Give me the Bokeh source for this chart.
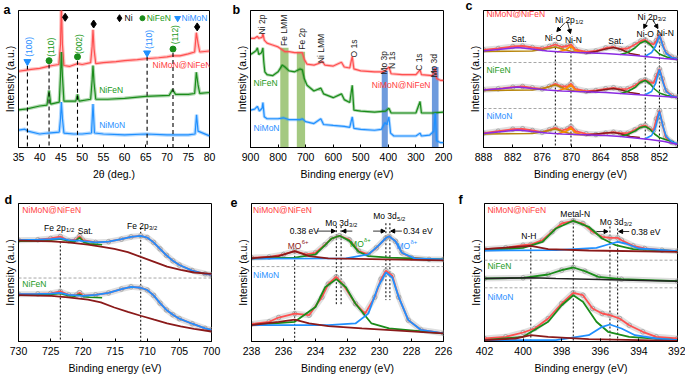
import numpy as np
from bokeh.plotting import figure
from bokeh.layouts import row, column
from bokeh.models import Range1d, FixedTicker, Arrow, NormalHead, Span
from bokeh.core.properties import value
from bokeh.embed import file_html
from bokeh.resources import INLINE

FONT = "Liberation Sans"
RED = "#ff5050"
GREEN = "#1a8c1a"
BLUE = "#2090ff"
DRED = "#8b1a1a"
PURPLE = "#8a2be2"
ORANGE = "#ff8c00"
OLIVE = "#b8860b"
GRAY = "#9c9c9c"
TRED = "#ff4040"
TGREEN = "#1a9a1a"
TBLUE = "#2b8fff"

# ---------------- panel a (XRD) ----------------
a_ticks = [35, 40, 45, 50, 55, 60, 65, 70, 75, 80]
a_x_red = [35.0, 36.5, 38.0, 40.0, 42.0, 43.0, 44.5, 44.9, 45.1, 45.35, 45.7, 47.0, 48.9, 50.0, 52.0, 52.35, 52.55, 52.8, 53.2, 55.0, 58.0, 60.0, 63.0, 65.0, 68.0, 70.0, 71.3, 73.0, 75.0, 76.5, 76.9, 77.3, 77.7, 80.0]
a_y_red = [79, 80, 81, 82, 84, 85, 86, 107, 150, 107, 85, 84, 87, 86, 88, 105, 122, 102, 87, 88, 89, 90, 91, 92, 93, 94, 95, 95, 97, 99, 119, 108, 99, 100]
a_x_green = [35.0, 37.0, 40.0, 41.7, 42.2, 42.6, 44.6, 44.9, 45.1, 45.35, 45.7, 48.5, 48.9, 49.3, 52.0, 52.35, 52.55, 52.8, 53.2, 56.0, 60.0, 65.0, 70.5, 71.3, 72.0, 75.0, 76.5, 76.9, 77.3, 77.7, 80.0]
a_y_green = [39, 40, 43, 44, 59, 45, 47, 74, 99, 74, 48, 48, 55, 48, 50, 70, 85, 67, 50, 50, 51, 53, 54, 60, 55, 55, 56, 78, 65, 56, 57]
a_x_blue = [35.0, 36.5, 37.2, 40.0, 42.0, 44.6, 44.9, 45.1, 45.35, 45.7, 48.0, 50.0, 52.2, 52.55, 52.9, 55.0, 60.0, 65.0, 70.0, 75.0, 76.6, 76.95, 77.3, 80.0]
a_y_blue = [18, 19, 17, 14, 15, 16, 30, 47, 30, 15, 14, 14, 15, 45, 15, 14, 13, 14, 13, 13, 14, 34, 17, 12]
a_ni_x = [46.0, 52.7, 77.1]
a_ni_y = [135, 128, 125]
a_nifen_x = [42.2, 48.9, 71.4]
a_nifen_y = [90, 94, 102]
a_nimon_x = [37.1, 65.3]
a_nimon_y = [89, 98]
a_hkl = ["(100)", "(110)", "(002)", "(110)", "(112)"]
a_hkl_x = [37.45, 42.6, 49.3, 65.65, 71.8]
a_hkl_y = [94, 94, 97, 102, 107]

# ---------------- panel b (survey) ----------------
b_ticks = [900, 800, 700, 600, 500, 400, 300, 200]
b_x_red = [900, 885, 875, 870, 858, 855, 850, 840, 820, 800, 785, 775, 760, 740, 720, 712, 705, 695, 670, 650, 640, 630, 600, 570, 560, 540, 531, 525, 500, 450, 420, 412, 398, 390, 350, 300, 285, 280, 240, 230, 225, 210, 200]
b_y_red = [114, 114, 116, 114, 115, 119, 112, 109, 107, 105, 102, 100, 100, 99, 99, 99, 92, 87, 86, 88, 90, 86, 85, 89, 84, 83, 95, 82, 80, 79, 79, 80, 84, 77, 76, 76, 81, 76, 75, 83, 72, 70, 70]
b_x_green = [900, 890, 880, 875, 870, 860, 855, 852, 848, 840, 820, 800, 785, 775, 760, 740, 720, 712, 705, 695, 670, 645, 635, 600, 570, 560, 540, 531, 525, 500, 450, 410, 398, 390, 350, 300, 285, 280, 240, 200]
b_y_green = [97, 99, 101, 104, 97, 99, 104, 90, 79, 76, 75, 79, 86, 84, 80, 79, 82, 81, 72, 65, 59, 62, 56, 52, 56, 50, 47, 65, 39, 38, 37, 38, 41, 36, 36, 36, 48, 36, 36, 37]
b_x_blue = [900, 885, 875, 868, 858, 855, 850, 840, 800, 780, 760, 720, 712, 700, 670, 645, 635, 600, 560, 540, 531, 525, 500, 450, 425, 412, 405, 398, 392, 380, 350, 300, 285, 280, 250, 235, 230, 225, 210, 200]
b_y_blue = [39, 40, 43, 38, 41, 47, 32, 30, 30, 31, 29, 29, 30, 27, 25, 30, 24, 23, 22, 21, 32, 20, 19, 18, 19, 26, 24, 32, 15, 12, 12, 12, 15, 12, 13, 17, 36, 7, 5, 5]
b_band_hi = [792, 732, 424, 242]
b_band_lo = [762, 702, 402, 218]
b_band_top = [104, 100, 80, 84]
b_band_col = ["#8dbb62", "#8dbb62", "#4a82d4", "#4a82d4"]
b_lab = ["Ni 2p", "Fe LMM", "Fe 2p", "Ni LMM", "O 1s", "Mo 3p", "N 1s", "C 1s", "Mo 3d"]
b_lab_x = [859, 777, 714, 645, 526, 416, 387, 288, 234]
b_lab_y = [118, 106, 102, 88, 94, 76, 82, 80, 73]

# ---------------- panel c (Ni 2p) ----------------
c_ticks = [888, 882, 876, 870, 864, 858, 852]
c_x_env = [888, 885, 882, 880, 878, 876, 874.5, 873.3, 872, 870.8, 870.1, 869.2, 867, 865, 863, 861.4, 860, 858.5, 857, 855.8, 854.9, 854, 853.2, 852.6, 852.0, 851.4, 850.7, 849.5, 848.3]
c_top_env = [97.7, 99, 101, 101.5, 100, 99, 101, 103, 100.5, 101.5, 103, 98, 95.5, 96.5, 99.5, 100.5, 98.5, 99, 103, 106.5, 107.5, 104.5, 103, 107, 113, 104, 95, 90.5, 89]
c_mid_env = [57.7, 58.7, 60.3, 61, 59.7, 58.7, 61, 63.7, 61, 61, 63.7, 58.7, 56.3, 57, 58.7, 59.7, 58.3, 58.7, 62, 66.3, 67.7, 65.3, 64.3, 72, 78.7, 68.7, 57, 52, 50.3]
c_bot_env = [14.3, 16.3, 18.3, 18.7, 17, 15.3, 17.7, 19.7, 17, 18.7, 21, 16.3, 13.7, 13, 14.3, 15.3, 14.3, 14.3, 17.7, 21, 22, 18.7, 17, 28.7, 37, 23.7, 10.3, 5.3, 3]
c_x_bg = [888, 884, 881, 878, 875, 872, 869, 866, 863, 860, 857, 854, 851, 848.3]
c_top_bg = [96.5, 98.5, 100, 98.5, 96.5, 95.5, 95, 94.5, 94, 93, 92, 90.5, 89, 88]
c_mid_bg = [57.5, 59, 60.5, 59, 57.5, 56.5, 56, 55.5, 55, 54, 53, 52, 51, 50]
c_bot_bg = [14, 16, 17.5, 16, 14.5, 13.5, 13, 12.5, 12, 11, 9.5, 8, 6, 3]
c_x_ol = [888, 878, 875.5, 873.3, 871.5, 869.5, 866]
c_top_ol = [96, 96.5, 98.5, 100.5, 98, 95.5, 94.5]
c_mid_ol = [57, 57.5, 59.5, 62.5, 59, 56.5, 55.5]
c_bot_ol = [13.5, 14, 16, 18.5, 15.5, 13, 12.5]
c_x_or = [873, 871.2, 870.1, 869.3, 868]
c_top_or = [95.5, 97.5, 101.5, 97, 95]
c_mid_or = [56.5, 59, 62.5, 58, 56]
c_bot_or = [13.5, 16, 19.5, 15, 13]
c_x_sat = [867, 865, 863, 861.4, 859.8, 858, 856]
c_top_sat = [94.5, 96, 98.5, 100, 98, 94, 92.2]
c_mid_sat = [55.5, 56.5, 58, 59, 57.5, 55, 53.5]
c_bot_sat = [12.5, 13.5, 14.5, 15, 13.5, 11, 10]
c_x_nio = [860, 858.5, 857, 855.9, 854.9, 854, 853, 852, 850.5, 849]
c_top_nio = [93, 95, 99.5, 104.5, 106.5, 103.5, 98, 93.5, 90.5, 89]
c_mid_nio = [54, 56, 60, 65, 67, 64, 58.5, 54.5, 52, 51]
c_bot_nio = [11, 13, 16.5, 20, 21, 18.5, 13.5, 10, 7.5, 5.5]
c_x_nin = [855, 853.6, 852.8, 852.3, 852.0, 851.7, 851.2, 850.6, 849.5, 848.3]
c_top_nin = [91, 95, 101, 108, 112, 108, 100, 94, 90, 89]
c_mid_nin = [52.5, 56, 64, 73, 78, 73, 64, 56, 51.5, 50.3]
c_bot_nin = [8.5, 12, 20, 30, 36, 30, 20, 11, 6, 3.5]
c_sep = [85, 39]
c_vl_x = [873.3, 870.1, 854.9, 852.0]
c_vl_top = [104, 104, 110, 110]

# ---------------- panel d (Fe 2p) ----------------
d_ticks = [730, 725, 720, 715, 710, 705, 700]
d_x = [730, 727, 725, 723.5, 722.2, 721, 720.5, 720, 718, 716, 714, 712.5, 711, 710, 709, 708, 707, 706, 705, 703, 701, 700]
d_top_env = [104.3, 104.7, 106, 108, 103.7, 105, 108.3, 104.3, 102, 102.7, 105.3, 107.7, 108.7, 107, 102, 95.3, 88.7, 83, 78.7, 73, 69.7, 68.7]
d_top_fit = [104.3, 104.7, 105.3, 106, 104.3, 103.7, 103.7, 103.3, 102, 102.7, 105.3, 107.7, 108.7, 107, 102, 95.3, 88.7, 83, 78.7, 73, 69.7, 68.7]
d_bot_env = [48.7, 49, 49.5, 51.5, 48, 47.8, 50.3, 47.2, 48, 50, 54, 56.3, 55.3, 53, 47.5, 39.5, 32.5, 27.5, 23.5, 18.3, 13.5, 12]
d_bot_fit = [48.7, 49, 49.3, 50, 48, 47.5, 47.2, 47, 48, 50, 54, 56.3, 55.3, 53, 47.5, 39.5, 32.5, 27.5, 23.5, 18.3, 13.5, 12]
d_x_g = [730, 727, 725, 723.5, 722.5, 721.3, 720.5, 719.8, 719, 717]
d_top_g = [103.3, 103.5, 104.5, 105.5, 104, 102.5, 107, 102, 100.5, 99.5]
d_bot_g = [48, 48, 48.5, 49.5, 47.5, 46.5, 48.5, 46, 45.5, 45]
d_x_bg = [730, 724.9, 722.3, 719.2, 717.2, 715.1, 713, 711, 708.9, 706.9, 704.8, 702.7, 700]
d_top_bg = [103.7, 103, 102, 99.7, 97.7, 95.3, 92, 87, 82, 77, 73.7, 71, 69.5]
d_bot_bg = [47.7, 47, 45.5, 43, 40.3, 35, 30.5, 26.5, 22.5, 18.7, 15.5, 13, 10.3]
d_sep = [65.3]
d_vl_x = [723.5, 711.0]
d_vl_top = [107, 117]

# ---------------- panel e (Mo 3d) ----------------
e_ticks = [238, 236, 234, 232, 230, 228, 226]
e_x_top = [238, 236.9, 236, 235.3, 234.6, 234, 233.4, 233, 232.5, 231.9, 231.3, 230.7, 230.2, 229.6, 229.4, 229, 228.6, 228, 226.9, 226]
e_top_env = [85, 85.7, 88.3, 91.7, 88.3, 90, 98.3, 104.3, 107.3, 103.3, 91.7, 88.3, 95, 105, 106.7, 101.7, 90, 85, 83.3, 83.3]
e_x_tg = [238, 235.3, 234, 233.4, 233, 232.5, 231.9, 231.3, 230.7, 229.4, 226]
e_top_g = [84.3, 85, 88.3, 97.7, 104.3, 107.3, 102.3, 91, 86.7, 85, 83.3]
e_x_tb = [238, 232.1, 230.7, 230.1, 229.6, 229.4, 229, 228.6, 227.8, 226]
e_top_b = [84, 84.3, 88.3, 96.7, 105, 106.7, 101.7, 90, 84.3, 83.3]
e_x_td = [238, 236.3, 235.3, 234.4, 233.2, 226]
e_top_d = [84.3, 86.7, 91.7, 86.7, 84.3, 82.3]
e_x_bot = [238, 236.9, 236.3, 235.3, 234.4, 233.6, 233.2, 232.7, 232.3, 231.5, 230.9, 230.3, 229.9, 229.6, 229.2, 228.8, 228.2, 227.4, 226]
e_bot_env = [17.7, 20, 24.3, 28.3, 26.7, 45, 58.3, 65.7, 58.3, 38.3, 28.3, 45, 63.3, 71.7, 66.7, 45, 21.7, 11.7, 8.3]
e_x_bg = [238, 235.3, 234, 233.4, 232.7, 232.1, 231.5, 230.5, 229.4, 226]
e_bot_g = [16.7, 20, 35, 55, 63.3, 55, 38.3, 18.3, 13.3, 8.3]
e_x_bb = [238, 233.2, 231.5, 230.7, 230.1, 229.6, 229.2, 228.8, 228.2, 227.4, 226]
e_bot_b = [16.7, 16.7, 18.3, 28.3, 55, 70, 65, 45, 21.7, 11.7, 8.3]
e_x_bd = [238, 236.3, 235.3, 234.4, 233.2, 231.1, 226]
e_bot_d = [16.7, 20, 22.3, 18.3, 15.7, 13.3, 8.3]
e_sep = [76]

# ---------------- panel f (N 1s) ----------------
f_ticks = [402, 400, 398, 396, 394, 392]
f_x_top = [402, 400.9, 400, 399.6, 399, 398.5, 398, 397.4, 396.9, 396.4, 395.9, 395.5, 395.1, 394.9, 394.3, 393.7, 392.8, 392]
f_top_env = [92.3, 93.7, 96.3, 97, 101.3, 109.7, 118, 120.7, 118, 109.7, 104.7, 103.7, 103.7, 101.3, 95.7, 93, 91.3, 90.3]
f_x_tg = [402, 400, 399, 398.3, 397.4, 396.6, 395.9, 395.2, 394.3, 392]
f_top_g = [91.3, 93.7, 99.7, 113, 120.7, 114.7, 103, 96.3, 92.3, 90.3]
f_x_tb = [402, 398.3, 396.2, 395.6, 395.1, 394.7, 394, 392]
f_top_b = [91, 91.3, 93.7, 97, 99.7, 98, 93, 90.3]
f_x_td = [402, 399.6, 398.7, 396.6, 392]
f_top_d = [92.3, 95.7, 92.3, 91, 89.7]
f_x_mid = [402, 400, 398.7, 398, 397.4, 396.8, 396.1, 394.9, 392]
f_mid_g = [63, 63.7, 67, 71.3, 74, 70.3, 64.7, 62.3, 60.3]
f_x_mk = [402, 399.6, 398.3, 396.6, 392]
f_mid_k = [63, 63.7, 63, 62.3, 60.3]
f_x_bot = [402, 400.9, 400, 399.4, 398.7, 398, 397.4, 396.9, 396.4, 395.9, 395.5, 395, 394.5, 393.8, 393.1, 392]
f_bot_env = [3, 4.7, 9, 13, 23, 38, 48.7, 46.3, 33, 28, 26.3, 23, 16.3, 9.7, 4.7, 3]
f_x_bg = [402, 400, 398.7, 398, 397.4, 396.9, 396.2, 395.6, 394.5, 392]
f_bot_g = [1.3, 4.7, 19.7, 36.3, 46.3, 39.7, 19.7, 9.7, 4.7, 1.3]
f_x_bb = [402, 398.3, 396.6, 395.9, 395.5, 394.9, 394.2, 393.1, 392]
f_bot_b = [1.3, 1.3, 6.3, 14.7, 17, 13, 6.3, 3, 1.3]
f_x_bd = [402, 400.4, 399.6, 398.7, 396.6, 392]
f_bot_d = [1.3, 3, 6.3, 4.7, 2.3, 0.7]
f_sep = [81.3, 53.7]
f_vl_x = [399.6, 397.4, 395.5, 395.1]
f_vl_top = [98, 123, 115, 113]

# ---------------- helpers ----------------
CW = {'N': 722, 'i': 222, ' ': 278, '2': 556, 'p': 556, 'F': 611, 'e': 556, 'M': 833,
      'o': 556, '3': 556, 'd': 556, 'O': 778, '1': 556, '/': 278, '5': 556, '6': 556,
      '+': 584, 'δ': 556}


def tw(s, size):
    return sum(CW.get(ch, 556) for ch in s) * size / 1000.0


def txt(p, x, y, s, color="black", size=8.5, align="center", baseline="middle",
        angle=0.0, xo=0.0, yo=0.0):
    p.text(x=[x], y=[y], text=[s], text_color=color, text_font=value(FONT),
           text_font_size=value(f"{size}px"), text_align=align,
           text_baseline=baseline, angle=angle, x_offset=xo, y_offset=yo)


def stxt(p, x, y, main, script, color="black", size=8.5, sup=False):
    s2 = round(size * 0.7, 1)
    w1 = tw(main, size)
    w2 = tw(script, s2)
    start = -(w1 + w2) / 2.0
    txt(p, x, y, main, color, size, align="left", baseline="alphabetic", xo=start, yo=3)
    txt(p, x, y, script, color, s2, align="left", baseline="alphabetic",
        xo=start + w1 + 0.3, yo=3 + (-3.5 if sup else 2.2))


def make_fig(w, h, bl, br, bt, bb, xr, yr, ticks, xlabel, letter, loff, lstand, lvalign):
    p = figure(width=w, height=h, min_border_left=bl, min_border_right=br,
               min_border_top=bt, min_border_bottom=bb,
               x_range=Range1d(*xr), y_range=Range1d(*yr),
               output_backend="svg", toolbar_location=None)
    p.xgrid.visible = False
    p.ygrid.visible = False
    p.outline_line_color = "black"
    p.outline_line_width = 1
    p.outline_line_alpha = 1
    p.background_fill_color = "white"
    p.border_fill_color = "white"
    ax = p.xaxis[0]
    ax.ticker = FixedTicker(ticks=ticks)
    ax.major_tick_in = 3
    ax.major_tick_out = 0
    ax.minor_tick_line_color = None
    ax.axis_line_color = "black"
    ax.major_tick_line_color = "black"
    ax.major_label_text_font = FONT
    ax.major_label_text_font_size = "10.5px"
    ax.major_label_text_color = "black"
    ax.major_label_standoff = 5
    ax.axis_label = xlabel
    ax.axis_label_text_font = FONT
    ax.axis_label_text_font_size = "10.5px"
    ax.axis_label_text_font_style = "normal"
    ax.axis_label_text_color = "black"
    ax.axis_label_standoff = 4
    ay = p.yaxis[0]
    ay.ticker = FixedTicker(ticks=[])
    ay.major_tick_in = 0
    ay.major_tick_out = 0
    ay.minor_tick_line_color = None
    ay.axis_line_color = "black"
    ay.major_label_standoff = 0
    ay.axis_label = "Intensity (a.u.)"
    ay.axis_label_text_font = FONT
    ay.axis_label_text_font_size = "10.5px"
    ay.axis_label_text_font_style = "normal"
    ay.axis_label_text_color = "black"
    ay.axis_label_standoff = 3
    # panel letter as the figure title, pulled to the left of the frame
    p.title.text = letter
    p.title.text_font = FONT
    p.title.text_font_size = "12.5px"
    p.title.text_font_style = "bold"
    p.title.text_color = "black"
    p.title.align = "left"
    p.title.offset = loff
    p.title.standoff = lstand
    p.title.vertical_align = lvalign
    return p


def spectrum(p, x, y):
    p.line(x, y, line_color="#c4c4c4", line_width=6, line_alpha=0.55)
    p.scatter(x, y, marker="circle", size=4.5, fill_color=None, line_color=GRAY, line_width=0.8)


def ln(p, x, y, color, w=1.6):
    p.line(x, y, line_color=color, line_width=w)


def seps(p, ys):
    for yv in ys:
        p.add_layout(Span(location=yv, dimension="width", line_color="#909090",
                          line_dash="3 2", line_width=0.8))


def arrow(p, x0, y0, x1, y1):
    p.add_layout(Arrow(end=NormalHead(size=4, fill_color="black", line_color="black"),
                       x_start=x0, y_start=y0, x_end=x1, y_end=y1,
                       line_color="black", line_width=0.8))


# ================= panel a =================
pa = make_fig(229, 188, 17, 20, 5, 41, (35, 80), (0, 142), a_ticks, "2θ (deg.)", "a", -15, -12, "bottom")
for xs, ys, c in [(a_x_red, a_y_red, RED), (a_x_green, a_y_green, GREEN), (a_x_blue, a_y_blue, BLUE)]:
    pa.line(xs, ys, line_color=c, line_width=3.5, line_alpha=0.35)
    pa.line(xs, ys, line_color=c, line_width=1.2)
vx = a_nifen_x + a_nimon_x
vy = a_nifen_y + a_nimon_y
pa.segment(x0=vx, y0=[v - 4 for v in vy], x1=vx, y1=[0] * len(vx),
           line_color="black", line_dash="4 3", line_width=1.1)
pa.scatter(a_ni_x, a_ni_y, marker="diamond", size=8, fill_color="black", line_color="black")
pa.scatter(a_nifen_x, a_nifen_y, marker="circle", size=6, fill_color=GREEN, line_color=GREEN)
pa.scatter(a_nimon_x, a_nimon_y, marker="inverted_triangle", size=7, fill_color=BLUE, line_color=BLUE)
hkl_col = [TBLUE, TGREEN, TGREEN, TBLUE, TGREEN]
for s, x, y, c in zip(a_hkl, a_hkl_x, a_hkl_y, hkl_col):
    txt(pa, x, y, s, c, 8.5, align="left", baseline="middle", angle=np.pi / 2)
pa.scatter([58.8], [134], marker="diamond", size=7, fill_color="black", line_color="black")
txt(pa, 60.0, 134, "Ni", "black", 8.5, align="left")
pa.scatter([64.2], [134], marker="circle", size=5, fill_color=GREEN, line_color=GREEN)
txt(pa, 65.2, 134, "NiFeN", TGREEN, 8.5, align="left")
pa.scatter([72.5], [134], marker="inverted_triangle", size=6, fill_color=BLUE, line_color=BLUE)
txt(pa, 73.4, 134, "NiMoN", TBLUE, 8.5, align="left")
txt(pa, 66.6, 86, "NiMoN@NiFeN", TRED, 8.5, align="left")
txt(pa, 54.0, 60, "NiFeN", TGREEN, 8.5, align="left")
txt(pa, 54.0, 23, "NiMoN", TBLUE, 8.5, align="left")

# ================= panel b =================
pb = make_fig(229, 188, 21, 15, 4, 41, (900, 200), (0, 143), b_ticks, "Binding energy (eV)", "b", -18, -13, "bottom")
pb.quad(left=b_band_hi, right=b_band_lo, bottom=[0] * 4, top=b_band_top,
        fill_color=b_band_col, fill_alpha=0.8, line_color=None)
for xs, ys, c in [(b_x_red, b_y_red, RED), (b_x_green, b_y_green, GREEN), (b_x_blue, b_y_blue, BLUE)]:
    pb.line(xs, ys, line_color=c, line_width=3, line_alpha=0.35)
    pb.line(xs, ys, line_color=c, line_width=1.2)
for s, x, y in zip(b_lab, b_lab_x, b_lab_y):
    txt(pb, x, y, s, "#222222", 8.5, align="left", baseline="middle", angle=np.pi / 2)
txt(pb, 889, 67, "NiFeN", TGREEN, 8.5, align="left")
txt(pb, 460, 65, "NiMoN@NiFeN", TRED, 8.5, align="left")
txt(pb, 889, 20, "NiMoN", TBLUE, 8.5, align="left")

# ================= panel c =================
pc = make_fig(227, 188, 25, 8, 10, 41, (888, 848.3), (0, 137), c_ticks, "Binding energy (eV)", "c", -18, -8, "top")
seps(pc, c_sep)
pc.segment(x0=c_vl_x, y0=c_vl_top, x1=c_vl_x, y1=[0] * 4, line_color="black",
           line_dash="2 2", line_width=1)
for env, bg, ol, orr, sat, nio, nin in [
        (c_top_env, c_top_bg, c_top_ol, c_top_or, c_top_sat, c_top_nio, c_top_nin),
        (c_mid_env, c_mid_bg, c_mid_ol, c_mid_or, c_mid_sat, c_mid_nio, c_mid_nin),
        (c_bot_env, c_bot_bg, c_bot_ol, c_bot_or, c_bot_sat, c_bot_nio, c_bot_nin)]:
    spectrum(pc, c_x_env, env)
    ln(pc, c_x_env, env, RED, 1.8)
    ln(pc, c_x_ol, ol, OLIVE)
    ln(pc, c_x_or, orr, ORANGE)
    ln(pc, c_x_sat, sat, DRED)
    ln(pc, c_x_nio, nio, GREEN)
    ln(pc, c_x_nin, nin, BLUE)
    ln(pc, c_x_bg, bg, PURPLE)
txt(pc, 887.4, 134, "NiMoN@NiFeN", TRED, 8.5, align="left")
txt(pc, 887.4, 78, "NiFeN", TGREEN, 8.5, align="left")
txt(pc, 887.4, 32, "NiMoN", TBLUE, 8.5, align="left")
txt(pc, 880.7, 109, "Sat.")
txt(pc, 860.9, 107, "Sat.")
stxt(pc, 870.5, 131, "Ni 2p", "1/2")
stxt(pc, 853.6, 134, "Ni 2p", "3/2")
txt(pc, 873.7, 110, "Ni-O")
txt(pc, 869.6, 108, "Ni-N")
txt(pc, 854.9, 114, "Ni-O")
txt(pc, 850.8, 115, "Ni-N")
arrow(pc, 871.3, 125, 873.0, 116)
arrow(pc, 870.8, 125, 870.2, 114)
arrow(pc, 854.3, 128, 855.2, 119)
arrow(pc, 853.4, 128, 852.3, 119)

# ================= panel d =================
pd_ = make_fig(229, 188, 17, 18, 15, 31, (730, 700), (0, 142), d_ticks, "Binding energy (eV)", "d", -14, -6, "bottom")
seps(pd_, d_sep)
pd_.segment(x0=d_vl_x, y0=d_vl_top, x1=d_vl_x, y1=[0, 0], line_color="black",
            line_dash="2 2", line_width=1)
for env, fit, g, bg in [(d_top_env, d_top_fit, d_top_g, d_top_bg),
                        (d_bot_env, d_bot_fit, d_bot_g, d_bot_bg)]:
    spectrum(pd_, d_x, env)
    ln(pd_, d_x, env, RED, 1.8)
    ln(pd_, d_x_g, g, GREEN)
    ln(pd_, d_x, fit, BLUE, 1.8)
    ln(pd_, d_x_bg, bg, DRED, 1.8)
txt(pd_, 729.4, 135, "NiMoN@NiFeN", TRED, 8.5, align="left")
txt(pd_, 729.4, 59, "NiFeN", TGREEN, 8.5, align="left")
stxt(pd_, 723.7, 120, "Fe 2p", "1/2")
txt(pd_, 719.6, 114, "Sat.")
stxt(pd_, 710.8, 122, "Fe 2p", "3/2")

# ================= panel e =================
pe = make_fig(229, 188, 22, 15, 15, 33, (238, 226), (0, 140), e_ticks, "Binding energy (eV)", "e", -21, -6, "bottom")
seps(pe, e_sep)
pe.segment(x0=[235.3, 232.7, 232.4, 229.6, 229.35], y0=[91, 117, 117, 120, 120],
           x1=[235.3, 232.7, 232.4, 229.6, 229.35], y1=[0, 37, 37, 42, 42],
           line_color="black", line_dash="2 2", line_width=1)
spectrum(pe, e_x_top, e_top_env)
ln(pe, e_x_top, e_top_env, RED, 1.8)
ln(pe, e_x_tg, e_top_g, GREEN, 1.8)
ln(pe, e_x_tb, e_top_b, BLUE, 1.8)
ln(pe, e_x_td, e_top_d, DRED, 1.8)
spectrum(pe, e_x_bot, e_bot_env)
ln(pe, e_x_bot, e_bot_env, RED, 1.8)
ln(pe, e_x_bg, e_bot_g, GREEN, 1.8)
ln(pe, e_x_bb, e_bot_b, BLUE, 1.8)
ln(pe, e_x_bd, e_bot_d, DRED, 1.8)
txt(pe, 237.9, 133, "NiMoN@NiFeN", TRED, 8.5, align="left")
txt(pe, 237.9, 67, "NiMoN", TBLUE, 8.5, align="left")
stxt(pe, 232.4, 123, "Mo 3d", "3/2")
stxt(pe, 229.4, 130, "Mo 3d", "5/2")
txt(pe, 234.7, 112, "0.38 eV")
txt(pe, 227.6, 112, "0.34 eV")
arrow(pe, 233.9, 112, 232.75, 112)
arrow(pe, 231.7, 112, 232.35, 112)
arrow(pe, 230.4, 112, 229.65, 112)
arrow(pe, 228.6, 112, 229.3, 112)
stxt(pe, 235.1, 100, "MO", "6+", DRED, sup=True)
stxt(pe, 231.2, 102, "MO", "δ+", TGREEN, sup=True)
stxt(pe, 228.3, 100, "MO", "δ+", TBLUE, sup=True)

# ================= panel f =================
pf = make_fig(227, 188, 26, 8, 15, 35, (402, 392), (0, 138), f_ticks, "Binding energy (eV)", "f", -26, -6, "bottom")
seps(pf, f_sep)
pf.segment(x0=f_vl_x, y0=f_vl_top, x1=f_vl_x, y1=[0] * 4, line_color="black",
           line_dash="2 2", line_width=1)
spectrum(pf, f_x_top, f_top_env)
ln(pf, f_x_top, f_top_env, RED, 1.8)
ln(pf, f_x_tg, f_top_g, GREEN, 1.8)
ln(pf, f_x_tb, f_top_b, BLUE, 1.8)
ln(pf, f_x_td, f_top_d, DRED, 1.8)
spectrum(pf, f_x_mid, f_mid_g)
ln(pf, f_x_mid, f_mid_g, GREEN, 1.8)
ln(pf, f_x_mk, f_mid_k, "#222222", 1.6)
spectrum(pf, f_x_bot, f_bot_env)
ln(pf, f_x_bot, f_bot_env, RED, 1.8)
ln(pf, f_x_bg, f_bot_g, GREEN, 1.8)
ln(pf, f_x_bb, f_bot_b, BLUE, 1.8)
ln(pf, f_x_bd, f_bot_d, DRED, 1.8)
txt(pf, 401.85, 132, "NiMoN@NiFeN", TRED, 8.5, align="left")
txt(pf, 401.85, 76, "NiFeN", TGREEN, 8.5, align="left")
txt(pf, 401.85, 45, "NiMoN", TBLUE, 8.5, align="left")
txt(pf, 399.7, 106, "N-H")
txt(pf, 397.3, 128, "Metal-N")
stxt(pf, 395.2, 123, "Mo 3d", "3/2")
txt(pf, 394.4, 110, "0.38 eV", align="left")
arrow(pf, 396.2, 110, 395.6, 110)
arrow(pf, 394.5, 110, 395.05, 110)

layout = column(row(pa, pb, pc, spacing=0), row(pd_, pe, pf, spacing=0), spacing=0)
open("out.html", "w").write(file_html(layout, INLINE))
